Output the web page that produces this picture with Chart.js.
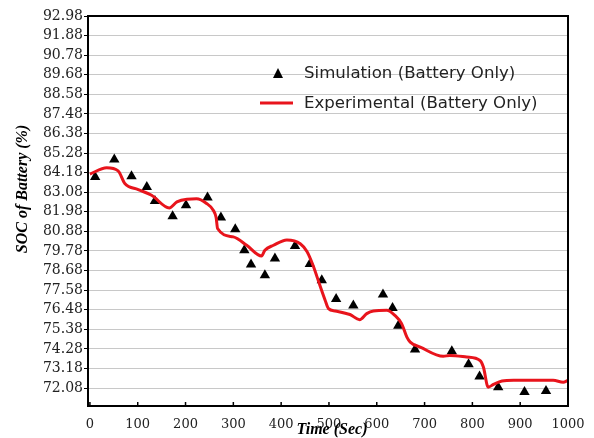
<!DOCTYPE html>
<html>
<head>
<meta charset="utf-8">
<script src="https://cdn.jsdelivr.net/npm/chart.js@4"></script>
<style>
  body { margin: 0; background: #fff; }
</style>
</head>
<body>
<canvas id="soc-chart" width="594" height="438"></canvas>
<script>
// Simulation (Battery Only) - triangles
const simTime = [11, 51, 87, 119, 136, 173, 201, 246, 274, 304, 323, 337, 366, 387, 429,
                 460, 485, 515, 551, 613, 633, 645, 680, 757, 792, 815, 854, 909, 954];
const simSoc = [83.94, 84.92, 83.98, 83.38, 82.59, 81.73, 82.35, 82.78, 81.66, 81.0, 79.82, 79.02, 78.41, 79.35, 80.06,
                79.05, 78.13, 77.08, 76.71, 77.34, 76.57, 75.58, 74.25, 74.14, 73.41, 72.73, 72.13, 71.85, 71.91];

// Experimental (Battery Only) - red line
const expTime = [0, 35, 59, 73, 101, 129, 166, 182, 203, 223, 244, 258, 264, 267, 300, 328, 359, 366, 384, 412,
                 440, 454, 467, 481, 492, 499, 513, 544, 564, 579, 593, 621, 638, 652, 663, 670, 691, 739, 753,
                 788, 816, 823, 833, 844, 862, 886, 969, 990, 1000];
const expSoc = [84.1, 84.45, 84.28, 83.57, 83.23, 82.91, 82.2, 82.54, 82.69, 82.71, 82.45, 82.07, 81.66, 81.04, 80.57,
                80.1, 79.5, 79.82, 80.1, 80.4, 80.19, 79.75, 78.95, 77.85, 77.01, 76.54, 76.41, 76.21, 75.92, 76.26,
                76.41, 76.45, 76.16, 75.7, 74.94, 74.66, 74.38, 73.86, 73.91, 73.82, 73.63, 73.26, 72.13, 72.28,
                72.47, 72.51, 72.51, 72.41, 72.51];

const xTicks = [0, 100, 200, 300, 400, 500, 600, 700, 800, 900, 1000];
const yTicks = [72.08, 73.18, 74.28, 75.38, 76.48, 77.58, 78.68, 79.78, 80.88, 81.98, 83.08,
                84.18, 85.28, 86.38, 87.48, 88.58, 89.68, 90.78, 91.88, 92.98];

const legendLabels = ['Simulation (Battery Only)', 'Experimental (Battery Only)'];
const red = '#e8141c';

// Frame, inward x ticks, axis titles and the legend box
const extras = {
    id: 'extras',
    afterDraw(chart) {
        const { ctx, chartArea: a, scales } = chart;
        ctx.save();
        ctx.strokeStyle = '#000';
        ctx.lineWidth = 2;
        ctx.strokeRect(a.left, a.top, a.right - a.left, a.bottom - a.top);

        ctx.lineWidth = 1.5;
        xTicks.forEach(v => {
            const px = scales.x.getPixelForValue(v);
            ctx.beginPath();
            ctx.moveTo(px, a.bottom);
            ctx.lineTo(px, a.bottom - 4);
            ctx.stroke();
        });

        // axis titles
        ctx.fillStyle = '#000';
        ctx.font = 'italic bold 16px "Liberation Serif"';
        ctx.textAlign = 'center';
        ctx.textBaseline = 'middle';
        ctx.fillText('Time (Sec)', 332, 430);
        ctx.translate(23, 189);
        ctx.rotate(-Math.PI / 2);
        ctx.fillText('SOC of Battery (%)', 0, 0);
        ctx.setTransform(1, 0, 0, 1, 0, 0);

        // legend
        ctx.fillStyle = '#000';
        ctx.beginPath();
        ctx.moveTo(278, 68);
        ctx.lineTo(283, 78);
        ctx.lineTo(273, 78);
        ctx.closePath();
        ctx.fill();
        ctx.strokeStyle = red;
        ctx.lineWidth = 3;
        ctx.beginPath();
        ctx.moveTo(260, 103);
        ctx.lineTo(293, 103);
        ctx.stroke();
        ctx.fillStyle = '#222';
        ctx.font = '16.6px "DejaVu Sans"';
        ctx.textAlign = 'left';
        ctx.fillText(legendLabels[0], 304, 74);
        ctx.fillText(legendLabels[1], 304, 104);
        ctx.restore();
    }
};

new Chart(document.getElementById('soc-chart'), {
    type: 'scatter',
    data: {
        datasets: [
            {
                label: legendLabels[1],
                type: 'line',
                data: expTime.map((t, i) => ({ x: t, y: expSoc[i] })),
                borderColor: red,
                borderWidth: 3,
                pointRadius: 0,
                cubicInterpolationMode: 'monotone',
                fill: false
            },
            {
                label: legendLabels[0],
                data: simTime.map((t, i) => ({ x: t, y: simSoc[i] })),
                pointStyle: 'triangle',
                pointRadius: 6,
                backgroundColor: '#000',
                borderColor: '#000',
                borderWidth: 0
            }
        ]
    },
    options: {
        responsive: false,
        animation: false,
        layout: { padding: { top: 16, right: 26, left: 0, bottom: 0 } },
        plugins: { legend: { display: false }, tooltip: { enabled: false } },
        scales: {
            x: {
                type: 'linear',
                min: -4,
                max: 1000,
                afterBuildTicks: s => { s.ticks = xTicks.map(v => ({ value: v })); },
                afterFit: s => { s.height = 32; },
                grid: { display: false },
                border: { color: '#000', width: 2 },
                ticks: {
                    color: '#222',
                    font: { family: '"DejaVu Serif"', size: 13 },
                    padding: 3,
                    maxRotation: 0,
                    autoSkip: false,
                    callback: v => String(v)
                }
            },
            y: {
                min: 71.07,
                max: 92.98,
                afterBuildTicks: s => { s.ticks = yTicks.map(v => ({ value: v })); },
                afterFit: s => { s.width = 88; },
                grid: { color: '#c8c8c8', lineWidth: 1, tickColor: '#000', tickLength: 4 },
                border: { color: '#000', width: 2 },
                ticks: {
                    color: '#222',
                    font: { family: '"DejaVu Serif"', size: 14 },
                    padding: 1,
                    autoSkip: false,
                    callback: v => v.toFixed(2)
                }
            }
        }
    },
    plugins: [extras]
});
</script>
</body>
</html>
